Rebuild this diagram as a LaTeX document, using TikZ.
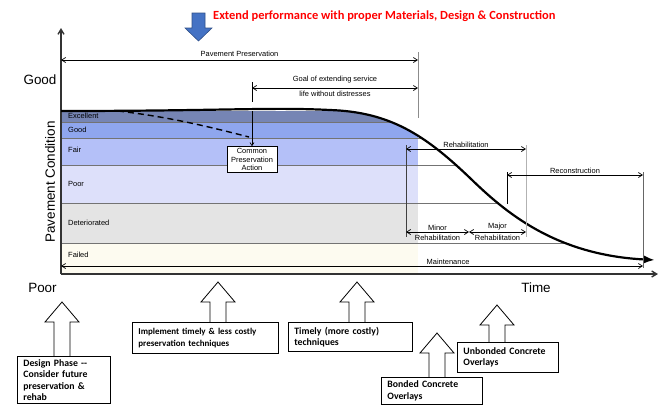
\documentclass[tikz,border=0pt]{standalone}
\usepackage{fontspec}
\setmainfont{Liberation Sans}
\newfontfamily\calibri{Carlito}
\usetikzlibrary{arrows.meta,calc}

\definecolor{excband}{RGB}{118,133,180}
\definecolor{goodband}{RGB}{143,166,238}
\definecolor{fairband}{RGB}{180,192,248}
\definecolor{poorband}{RGB}{221,224,250}
\definecolor{detband}{RGB}{228,228,228}
\definecolor{failband}{RGB}{253,251,240}
\definecolor{pushblue}{RGB}{68,114,196}
\definecolor{extred}{RGB}{255,0,0}

% condition curve, used for the clip and for the line
\def\condcurve{(61,111) .. controls (220,111) and (270,107) .. (330,110) .. controls (390,112) and (425,135) .. (470,178) .. controls (505,212) and (555,255) .. (655,260)}

\begin{document}
\begin{tikzpicture}[x=1bp,y=-1bp,
  lbl/.style={font=\fontsize{7.5}{8.5}\selectfont, inner sep=0pt},
  big/.style={font=\fontsize{13.5}{15}\selectfont, inner sep=0pt},
  dim/.style={line width=0.7bp, {Straight Barb[length=4bp,width=5bp]}-{Straight Barb[length=4bp,width=5bp]}},
  guide/.style={line width=0.7bp, black!45},
  bandline/.style={line width=0.5bp, black!55},
  axis/.style={line width=1.4bp, black!80, -{Straight Barb[length=5bp,width=6bp]}},
  hollow/.style={draw, line width=0.8bp, line join=miter},
  tbox/.style={draw, line width=0.8bp, anchor=north west, align=left, inner xsep=6bp, inner ysep=0pt,
    font=\calibri\bfseries\fontsize{9.8}{11.5}\selectfont}]
\useasboundingbox (0,0) rectangle (658,404);

% condition bands under the curve
\begin{scope}
\clip \condcurve -- (655,280) -- (61,280) -- cycle;
\foreach \c/\ta/\tb in {excband/111/122, goodband/122/138, fairband/138/165,
                        poorband/165/203, detband/203/243, failband/243/274}
  \fill[\c] (61,\ta) rectangle (418,\tb);
\foreach \yy in {122,138,165,203,243}
  \draw[bandline] (61,\yy) -- (660,\yy);
\end{scope}
\foreach \t/\yy [count=\i] in {Excellent/116, Good/130, Fair/150, Poor/184, Deteriorated/223, Failed/255}
  \node[lbl, anchor=west] (band\i) at (68,\yy) {\t};

% axes
\coordinate (O) at (61,274);
\draw[axis] (O) -- (61,28);
\draw[axis] (O) -- (658,274);
\node[big] (good) at (40,80) {Good};
\node[big] (poor) at (42.5,288) {Poor};
\node[big] (time) at (536,288) {Time};
\node[big, rotate=90] (ylab) at (50,182) {Pavement Condition};

% curves
\draw[line width=2.2bp, -{Latex[length=11bp,width=8bp]}] \condcurve;
\draw[line width=1.4bp, dash pattern=on 6bp off 4bp] (118,111) .. controls (170,117) and (210,127) .. (249,137);

% guides
\draw[guide] (418,52) -- (418,118);
\draw[line width=0.7bp] (252,82) -- (252,102);
\draw[guide, black!75] (406,145) -- (406,237);
\draw[guide, black!30] (526,145) -- (526,237);
\draw[line width=0.7bp] (507,172) -- (507,204);
\draw[guide, black!60] (643,172) -- (643,268);

% dimension arrows
\coordinate (ppL) at (61,60);   \coordinate (ppR) at (418,60);
\coordinate (goL) at (252,88);  \coordinate (goR) at (418,88);
\coordinate (rhL) at (406,149); \coordinate (rhR) at (526,149);
\coordinate (rcL) at (507,175); \coordinate (rcR) at (643,175);
\coordinate (mnL) at (406,232); \coordinate (mnM) at (469,232); \coordinate (mnR) at (526,232);
\coordinate (mtL) at (61,266);  \coordinate (mtR) at (643,266);
\draw[dim] (ppL) -- (ppR) node[lbl, midway, above=3bp] {Pavement Preservation};
\draw[dim] (goL) -- (goR) node[lbl, midway, above=5bp] {Goal of extending service}
                          node[lbl, midway, below=3bp] {life without distresses};
\draw[dim] (rhL) -- (rhR) node[lbl, midway, above=1.5bp] {Rehabilitation};
\draw[dim] (rcL) -- (rcR) node[lbl, midway, above=1.5bp] {Reconstruction};
\draw[dim] (mnL) -- (mnM) node[lbl, midway, above=1.5bp] {Minor}
                          node[lbl, midway, below=2.5bp] {Rehabilitation};
\draw[dim] (mnM) -- (mnR) node[lbl, midway, above=1.5bp] {Major}
                          node[lbl, midway, below=2.5bp] {Rehabilitation};
\draw[dim] (mtL) -- (mtR) node[lbl, pos=0.665, above=1bp] {Maintenance};

% common preservation action
\node[lbl, draw, fill=white, line width=0.7bp, align=center, minimum width=50bp,
      minimum height=26bp, inner sep=1bp] (cpa) at (252,159.5) {Common\\Preservation\\Action};
\draw[line width=0.7bp, -{Straight Barb[length=3bp,width=4bp]}] (252,111) -- (cpa.north);

% push arrow and heading
\filldraw[fill=pushblue, draw=pushblue!70!black, line width=0.6bp]
  (192,13) -- (205,13) -- (205,28) -- (212,28) -- (198.5,41) -- (185,28) -- (192,28) -- cycle;
\node[anchor=west, inner sep=0pt, text=extred, font=\calibri\bfseries\fontsize{12.5}{14}\selectfont]
  (ext) at (213,16) {Extend performance with proper Materials, Design \& Construction};

% bottom boxes
\node[tbox, text width=81bp, minimum height=47bp] (design) at (17,356)
  {Design Phase --\\Consider future\\preservation \&\\rehab};
\node[tbox, text width=134bp, minimum height=31bp, font=\calibri\bfseries\fontsize{9}{11.5}\selectfont] (impl) at (132,322)
  {Implement timely \& less costly\\preservation techniques};
\node[tbox, text width=112bp, minimum height=29bp] (timely) at (288,322)
  {Timely (more costly)\\techniques};
\node[tbox, text width=89bp, minimum height=27bp] (bonded) at (381,377)
  {Bonded Concrete\\Overlays};
\node[tbox, text width=89bp, minimum height=30bp] (unbonded) at (457,342)
  {Unbonded Concrete\\Overlays};

% hollow arrows
\foreach \bx/\ax/\tip in {design/62/302, impl/218/282, timely/357/282, bonded/437/333, unbonded/497/305}
  \draw[hollow] let \p1=(\bx.north) in
    ({\ax-8},\y1) -- ({\ax-8},\tip+20) -- ({\ax-17},\tip+20) -- (\ax,\tip)
    -- ({\ax+17},\tip+20) -- ({\ax+8},\tip+20) -- ({\ax+8},\y1);
\end{tikzpicture}
\end{document}
